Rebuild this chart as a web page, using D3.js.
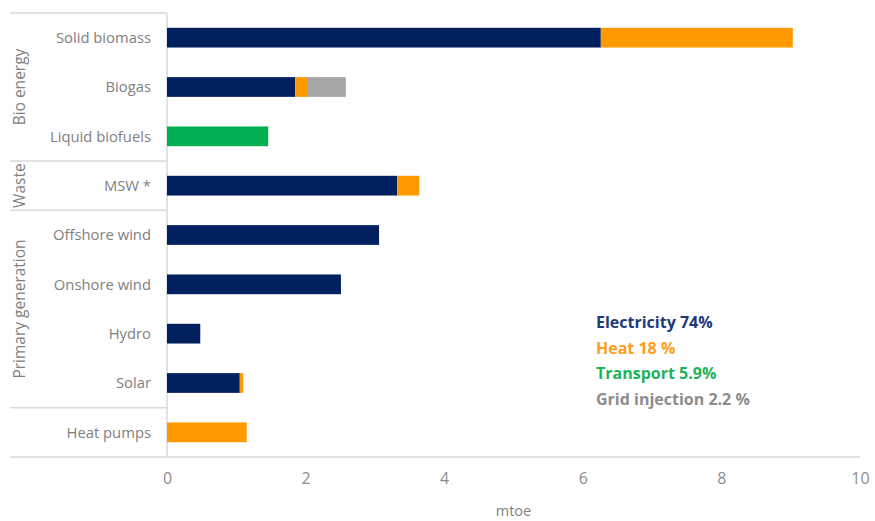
<!DOCTYPE html>
<html>
<head>
<meta charset="utf-8">
<script src="https://cdn.jsdelivr.net/npm/d3@7"></script>
<style>
  body { margin: 0; background: #fff; }
  text { font-family: "Open Sans", "Noto Sans", sans-serif; }
</style>
</head>
<body>
<svg id="chart" width="875" height="521"></svg>
<script>
// categories, top to bottom
const categories = ["Solid biomass", "Biogas", "Liquid biofuels", "MSW *", "Offshore wind",
                    "Onshore wind", "Hydro", "Solar", "Heat pumps"];
// mtoe per end use
const electricity = [6.26, 1.85, 0, 3.32, 3.06, 2.51, 0.48, 1.05, 0];
const heat        = [2.77, 0.17, 0, 0.32, 0,    0,    0,    0.05, 1.15];
const transport   = [0,    0,    1.46, 0, 0,    0,    0,    0,    0];
const grid        = [0,    0.56, 0,    0, 0,    0,    0,    0,    0];
const xTicks = [0, 2, 4, 6, 8, 10];

// groups on the left: name and the categories they span
const groups = [
  {name: "Bio energy", from: 0, to: 2},
  {name: "Waste", from: 3, to: 3},
  {name: "Primary generation", from: 4, to: 7},
  {name: "", from: 8, to: 8}
];
const legend = [
  {label: "Electricity 74%", color: "#1f3a7a"},
  {label: "Heat 18 %", color: "#ff9d1c"},
  {label: "Transport 5.9%", color: "#1db35a"},
  {label: "Grid injection 2.2 %", color: "#8c8c8c"}
];

const keys = ["electricity", "heat", "transport", "grid"];
const colors = {electricity: "#002060", heat: "#ff9900", transport: "#00b050", grid: "#a5a5a5"};

const rows = categories.map((c, i) => ({
  cat: c, electricity: electricity[i], heat: heat[i], transport: transport[i], grid: grid[i]
}));

const svg = d3.select("#chart");
const plotTop = 13, plotBottom = 457, left = 167, right = 860;

const x = d3.scaleLinear().domain([0, 10]).range([left, right]);
const y = d3.scaleBand().domain(categories).range([plotTop, plotBottom]).paddingInner(0.6).paddingOuter(0.3);

// frame lines
const lineColor = "#d9d9d9";
svg.append("line").attr("x1", left).attr("x2", left).attr("y1", plotTop).attr("y2", plotBottom)
  .attr("stroke", lineColor).attr("stroke-width", 1.5);
svg.append("line").attr("x1", 10).attr("x2", left).attr("y1", plotTop).attr("y2", plotTop)
  .attr("stroke", lineColor).attr("stroke-width", 1.5);
svg.append("line").attr("x1", 10).attr("x2", right).attr("y1", plotBottom).attr("y2", plotBottom)
  .attr("stroke", lineColor).attr("stroke-width", 1.5);

// group separators and rotated labels
const step = y.step();
groups.forEach((g, gi) => {
  const y0 = y(categories[g.from]) - (step - y.bandwidth()) / 2;
  const y1 = y(categories[g.to]) + y.bandwidth() + (step - y.bandwidth()) / 2;
  if (gi > 0) {
    svg.append("line").attr("x1", 10).attr("x2", left).attr("y1", y0).attr("y2", y0)
      .attr("stroke", lineColor).attr("stroke-width", 1.5);
  }
  if (g.name) {
    svg.append("text")
      .attr("transform", `translate(25,${(y0 + y1) / 2}) rotate(-90)`)
      .attr("text-anchor", "middle")
      .attr("font-size", 15.5)
      .attr("fill", "#808080")
      .text(g.name);
  }
});

// stacked bars
const stack = d3.stack().keys(keys)(rows);
svg.append("g").selectAll("g")
  .data(stack)
  .join("g")
  .attr("fill", d => colors[d.key])
  .selectAll("rect")
  .data(d => d.filter(s => s[1] - s[0] > 0))
  .join("rect")
  .attr("x", d => x(d[0]))
  .attr("y", d => y(d.data.cat))
  .attr("width", d => x(d[1]) - x(d[0]))
  .attr("height", y.bandwidth());

// category labels
svg.append("g").selectAll("text")
  .data(categories)
  .join("text")
  .attr("x", 151)
  .attr("y", d => y(d) + y.bandwidth() / 2)
  .attr("dy", "0.35em")
  .attr("text-anchor", "end")
  .attr("font-size", 14.8)
  .attr("fill", "#808080")
  .text(d => d);

// x axis
const xAxis = svg.append("g")
  .attr("transform", `translate(0,${plotBottom})`)
  .call(d3.axisBottom(x).tickValues(xTicks).tickSize(0).tickPadding(16));
xAxis.select(".domain").remove();
xAxis.selectAll("text")
  .attr("font-family", "'Liberation Sans Narrow', 'DejaVu Sans Condensed', sans-serif")
  .attr("font-size", 16)
  .attr("fill", "#8c8c8c");

svg.append("text")
  .attr("x", (left + right) / 2)
  .attr("y", 516)
  .attr("text-anchor", "middle")
  .attr("font-size", 14.5)
  .attr("fill", "#808080")
  .text("mtoe");

// legend
svg.append("g").selectAll("text")
  .data(legend)
  .join("text")
  .attr("x", 596)
  .attr("y", (d, i) => 328 + i * 25.5)
  .attr("font-size", 16)
  .attr("font-weight", "bold")
  .attr("fill", d => d.color)
  .text(d => d.label);
</script>
</body>
</html>
